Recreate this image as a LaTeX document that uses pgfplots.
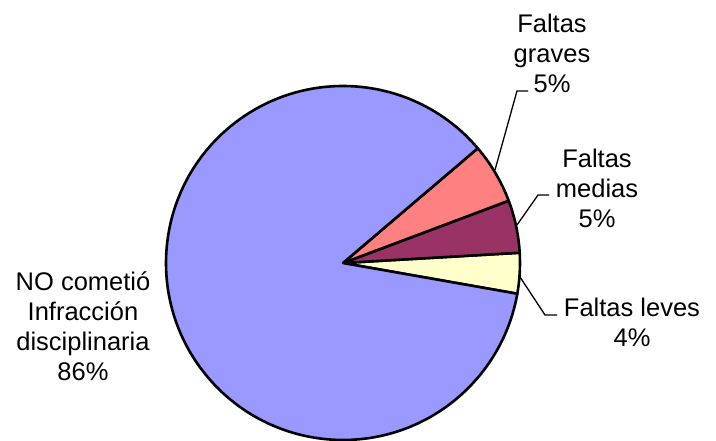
\documentclass[border=0pt]{standalone}
\usepackage{fontspec}
\setmainfont{Liberation Sans}
\usepackage{pgfplots}
\pgfplotsset{compat=1.18}
\definecolor{cNO}{HTML}{9999FF}
\definecolor{cGr}{HTML}{FF8080}
\definecolor{cMe}{HTML}{993366}
\definecolor{cLe}{HTML}{FFFFCC}
% data (percent)
\def\vLe{3.7}
\def\vMe{4.8}
\def\vGr{5.5}
\def\vNO{86.0}
\begin{document}
\begin{tikzpicture}
\pgfmathsetmacro{\aA}{-10}
\pgfmathsetmacro{\aB}{\aA+3.6*\vLe}
\pgfmathsetmacro{\aC}{\aB+3.6*\vMe}
\pgfmathsetmacro{\aD}{\aC+3.6*\vGr}
\pgfmathsetmacro{\aE}{\aD+3.6*\vNO}
\begin{axis}[
  scale only axis, width=716pt, height=441pt,
  xmin=0, xmax=716, ymin=0, ymax=441,
  hide axis, clip=false,
]
\def\cx{343}\def\cy{178}
\tikzset{sect/.style={draw=black, line width=2.6pt, line join=round}}
\path[sect, fill=cLe]
  (axis cs:\cx,\cy) -- ([shift={(\aA:177pt)}]axis cs:\cx,\cy) arc[start angle=\aA, end angle=\aB, radius=177pt] -- cycle;
\path[sect, fill=cMe]
  (axis cs:\cx,\cy) -- ([shift={(\aB:177pt)}]axis cs:\cx,\cy) arc[start angle=\aB, end angle=\aC, radius=177pt] -- cycle;
\path[sect, fill=cGr]
  (axis cs:\cx,\cy) -- ([shift={(\aC:177pt)}]axis cs:\cx,\cy) arc[start angle=\aC, end angle=\aD, radius=177pt] -- cycle;
\path[sect, fill=cNO]
  (axis cs:\cx,\cy) -- ([shift={(\aD:177pt)}]axis cs:\cx,\cy) arc[start angle=\aD, end angle=\aE, radius=177pt] -- cycle;
% leader lines
\draw[line width=1.3pt] (axis cs:495,271) -- (axis cs:517,350) -- (axis cs:528,350);
\draw[line width=1.3pt] (axis cs:517,216) -- (axis cs:538,246) -- (axis cs:549,246);
\draw[line width=1.3pt] (axis cs:520,164) -- (axis cs:545,126) -- (axis cs:557,126);
% labels
\tikzset{lab/.style={align=center, inner sep=0pt, font=\fontsize{25.5}{30}\selectfont}}
\node[lab] at (axis cs:552,388) {Faltas\\graves\\5\%};
\node[lab] at (axis cs:597,253) {Faltas\\medias\\5\%};
\node[lab] at (axis cs:632,119) {Faltas leves\\4\%};
\node[lab] at (axis cs:83,114.5) {NO cometió\\Infracción\\disciplinaria\\86\%};
\end{axis}
\pgfresetboundingbox
\path[use as bounding box] (0,0) rectangle (716pt,441pt);
\end{tikzpicture}
\end{document}
